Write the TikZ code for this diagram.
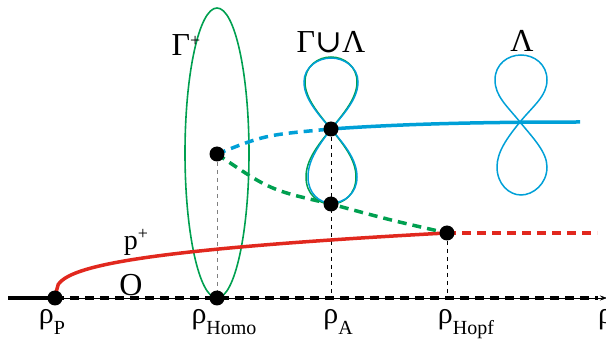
\documentclass[tikz,border=0pt]{standalone}
\usepackage{fontspec}
\setmainfont{Liberation Serif}
\newfontfamily\symfont{DejaVu Serif}
\usetikzlibrary{arrows.meta}
\definecolor{cred}{RGB}{225,40,30}
\definecolor{cgreen}{RGB}{0,160,80}
\definecolor{cblue}{RGB}{0,160,215}
\newcommand{\rlab}[1]{{\fontsize{30}{30}\selectfont ρ}{\fontsize{20}{20}\selectfont\raisebox{-11pt}{#1}}}
\begin{document}
\begin{tikzpicture}[x=1pt,y=-1pt,
  dot/.style={circle,fill=black,inner sep=0pt,minimum size=15pt},
  thickdash/.style={line width=3.5pt,dash pattern=on 9pt off 6pt},
  guide/.style={thin,dash pattern=on 4pt off 4pt},
  thinc/.style={line width=1.5pt},
  lbl/.style={inner sep=0pt,font=\fontsize{32}{32}\selectfont}]
\useasboundingbox (0,0) rectangle (606,342);
% points
\coordinate (L) at (8,298);
\coordinate (R) at (607,298);
\coordinate (ax) at (598,298);
\coordinate (P) at (55,298);
\coordinate (H0) at (217,298);
\coordinate (H) at (217,154);
\coordinate (Au) at (331,129);
\coordinate (Al) at (331,204);
\coordinate (Hp) at (447,233);
\coordinate (A0) at (331,298);
\coordinate (Hp0) at (447,298);
\coordinate (Bend) at (580,122);
\coordinate (Rend) at (597,233);
% guides
\draw[guide,gray] (H) -- (H0);
\draw[guide] (Au) -- (A0);
\draw[guide] (Hp) -- (Hp0);
% axis
\draw[thin,-{Stealth[length=7pt,width=5pt]}] (L) -- (R);
\draw[line width=3.5pt] (L) -- (P);
\draw[thickdash] (P) -- (ax);
% ellipse Gamma+
\draw[cgreen,line width=1.6pt] (217,153) ellipse [x radius=32, y radius=145];
% red curve
\draw[cred,line width=3.5pt] plot[domain=0.01:392,samples=120] ({55+\x},{298-9.34*(\x)^0.325});
\draw[cred,thickdash] (Hp) -- (Rend);
% blue
\draw[cblue,line width=3.5pt] (Au) .. controls (400,124) and (480,122) .. (Bend);
\draw[cblue,thickdash] (H) .. controls (265,135) .. (Au);
% green dashed
\draw[cgreen,thickdash] (H) .. controls (270,190) .. (Al) .. controls (390,220) .. (Hp);
% figure eight at A (green and blue nearly coincident)
\draw[cgreen,thinc] (331,129) .. controls (318,113) and (305,98) .. (305,82) .. controls (305,66) and (318,57) .. (331,57)
  .. controls (344,57) and (357,66) .. (357,82) .. controls (357,98) and (344,113) .. (331,129)
  .. controls (318,145) and (306,160) .. (306,177) .. controls (306,194) and (318,204) .. (331,204)
  .. controls (344,204) and (356,194) .. (356,177) .. controls (356,160) and (344,145) .. (331,129);
\draw[cblue,thinc] (331,129) .. controls (317,113) and (304,98) .. (304,82) .. controls (304,67) and (318,58) .. (331,58)
  .. controls (344,58) and (358,67) .. (358,82) .. controls (358,98) and (345,113) .. (331,129)
  .. controls (319,145) and (308,160) .. (308,177) .. controls (308,193) and (319,203) .. (331,203)
  .. controls (345,203) and (357,193) .. (357,177) .. controls (357,160) and (345,145) .. (331,129);
% Lambda figure eight
\draw[cblue,thinc] (520,122) .. controls (507,106) and (495,96) .. (495,80) .. controls (495,64) and (508,55) .. (521,55)
  .. controls (534,55) and (547,64) .. (547,80) .. controls (547,96) and (533,106) .. (520,122)
  .. controls (507,138) and (497,152) .. (497,167) .. controls (497,184) and (509,195) .. (521,195)
  .. controls (533,195) and (547,184) .. (547,167) .. controls (547,152) and (533,138) .. (520,122);
% dots
\node[dot] (nP) at (P) {};
\node[dot] (nH0) at (H0) {};
\node[dot] (nH) at (H) {};
\node[dot] (nAu) at (Au) {};
\node[dot] (nAl) at (Al) {};
\node[dot] (nHp) at (Hp) {};
% labels
\node[lbl] (g) at (186,45) {Γ\raisebox{9pt}{\fontsize{18}{18}\selectfont +}};
\node[lbl] (gl) at (331,42) {Γ{\symfont ∪}Λ};
\node[lbl] (lam) at (522,41) {Λ};
\node[lbl,font=\fontsize{28}{28}\selectfont] (pp) at (136,242) {p\raisebox{10pt}{\fontsize{18}{18}\selectfont +}};
\node[lbl] (o) at (131,285) {O};
\node[inner sep=0pt,anchor=north] (lP) at (52,309) {\rlab{P}};
\node[inner sep=0pt,anchor=north] (lH) at (224,309) {\rlab{Homo}};
\node[inner sep=0pt,anchor=north] (lA) at (338,309) {\rlab{A}};
\node[inner sep=0pt,anchor=north] (lHp) at (466,309) {\rlab{Hopf}};
\node[inner sep=0pt,anchor=north west] (lr) at (598,309) {{\fontsize{30}{30}\selectfont ρ}};
\end{tikzpicture}
\end{document}
